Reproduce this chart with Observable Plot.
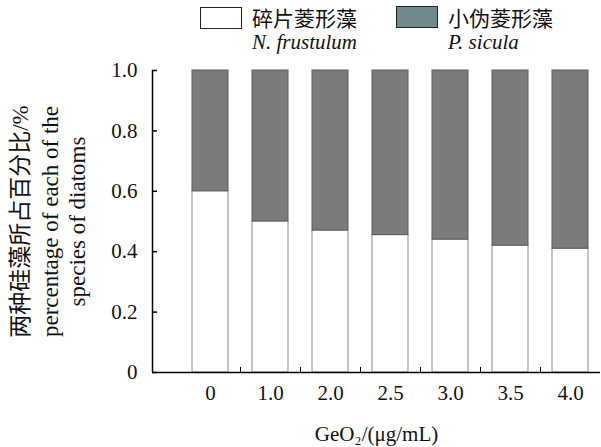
<!DOCTYPE html>
<html lang="zh-CN">
<head>
<meta charset="utf-8">
<script src="https://cdn.jsdelivr.net/npm/d3@7"></script>
<script src="https://cdn.jsdelivr.net/npm/@observablehq/plot@0.6"></script>
<style>
  html, body { margin: 0; padding: 0; background: #fff; }
  body { width: 601px; height: 447px; overflow: hidden; font-family: "Liberation Serif", "Noto Sans CJK SC", serif; }
  #legend { position: relative; width: 601px; height: 56px; }
  #legend .sw { position: absolute; box-sizing: border-box; border: 1.5px solid #222; }
  #legend .t { position: absolute; font-family: "Liberation Serif", "Noto Sans CJK SC", serif; font-size: 21px; line-height: 21px; color: #111; white-space: nowrap; }
  #legend .it { font-style: italic; }
  #chart svg { display: block; }
</style>
</head>
<body>
<div id="legend"></div>
<div id="chart"></div>
<script>
// ---- data ----
const categories = ["0", "1.0", "2.0", "2.5", "3.0", "3.5", "4.0"];
const nFrustulum = [0.60, 0.50, 0.47, 0.455, 0.44, 0.42, 0.41];   // 碎片菱形藻
const pSicula    = [0.40, 0.50, 0.53, 0.545, 0.56, 0.58, 0.59];   // 小伪菱形藻
const yTicks = [0, 0.2, 0.4, 0.6, 0.8, 1.0];
const yTickLabels = ["0", "0.2", "0.4", "0.6", "0.8", "1.0"];
const seriesNames = ["碎片菱形藻", "小伪菱形藻"];
const seriesLatin = ["N. frustulum", "P. sicula"];
const xTitle = "GeO₂/(μg/mL)";
const yTitleLines = ["两种硅藻所占百分比/%", "percentage of each of the", "species of diatoms"];

// ---- legend (HTML, above the SVG) ----
const legend = document.getElementById("legend");
const legendSpec = [
  {sw: {left: 200, top: 7, bg: "#ffffff"}, tx: 252},
  {sw: {left: 396, top: 6, bg: "#6f898c"}, tx: 448}
];
legendSpec.forEach((s, i) => {
  const sw = document.createElement("div");
  sw.className = "sw";
  Object.assign(sw.style, {left: s.sw.left + "px", top: s.sw.top + "px", width: "42px", height: "22px", background: s.sw.bg});
  legend.appendChild(sw);
  const t1 = document.createElement("div");
  t1.className = "t";
  Object.assign(t1.style, {left: s.tx + "px", top: "9px"});
  t1.textContent = seriesNames[i];
  legend.appendChild(t1);
  const t2 = document.createElement("div");
  t2.className = "t it";
  Object.assign(t2.style, {left: s.tx + "px", top: "32px"});
  t2.textContent = seriesLatin[i];
  legend.appendChild(t2);
});

// ---- chart ----
const data = categories.map((c, i) => ({i, c, nf: nFrustulum[i], ps: pSicula[i]}));
const bounds = data.slice(0, -1).map(d => d.i + 0.5);

const W = 601, H = 391, mL = 152, mR = 1, mT = 14, mB = 75;
const xmin = -0.5 - 28 / 60, xmax = categories.length - 0.5;
const pxPerX = (W - mL - mR) / (xmax - xmin);
const pxPerY = (H - mT - mB);
const halfBar = 18 / pxPerX;
const font = `"Liberation Serif", "Noto Sans CJK SC", serif`;

const yTitle = (line, dx) => Plot.text([line], {frameAnchor: "left", text: d => d, rotate: -90, dx, dy: 0,
  textAnchor: "middle", lineAnchor: "middle", fontSize: 23, fontFamily: font, fill: "#111"});

const plot = Plot.plot({
  width: W, height: H,
  marginLeft: mL, marginRight: mR, marginTop: mT, marginBottom: mB,
  style: {fontFamily: font, fontSize: "21px", color: "#111", background: "#fff"},
  x: {type: "linear", domain: [xmin, xmax], axis: null},
  y: {domain: [0, 1], axis: null},
  marks: [
    // white (N. frustulum) lower segments
    Plot.rectY(data, {x1: d => d.i - halfBar, x2: d => d.i + halfBar, y1: 0, y2: d => d.nf,
      fill: "#ffffff", stroke: "#8a8a8a", strokeWidth: 1}),
    // grey (P. sicula) upper segments
    Plot.rectY(data, {x1: d => d.i - halfBar, x2: d => d.i + halfBar, y1: d => d.nf, y2: d => d.nf + d.ps,
      fill: "#7b7b7b", stroke: "#5a5a5a", strokeWidth: 1}),
    // axes lines
    Plot.ruleX([xmin], {y1: 0, y2: 1, stroke: "#000", strokeWidth: 1.5}),
    Plot.ruleY([0], {x1: xmin, x2: xmax, stroke: "#000", strokeWidth: 1.5}),
    // inward y ticks
    Plot.ruleY(yTicks, {y: d => d, x1: xmin, x2: xmin + 5 / pxPerX, stroke: "#000", strokeWidth: 1.5}),
    // small upward ticks between categories
    Plot.ruleX(bounds, {x: d => d, y1: 0, y2: 5 / pxPerY, stroke: "#000", strokeWidth: 1}),
    // y tick labels
    Plot.text(yTicks, {x: xmin, y: d => d, text: (d, i) => yTickLabels[i], textAnchor: "end", dx: -15,
      lineAnchor: "middle", fontSize: 21, fontFamily: font, fill: "#111"}),
    // x tick labels
    Plot.text(data, {x: "i", y: 0, text: "c", dy: 13, lineAnchor: "top", fontSize: 21, fontFamily: font, fill: "#111"}),
    // x axis title
    Plot.text([xTitle], {frameAnchor: "bottom", text: d => d, dy: 68, lineAnchor: "bottom", fontSize: 21, fontFamily: font, fill: "#111"}),
    // y axis title (three rotated lines)
    yTitle(yTitleLines[0], -132),
    yTitle(yTitleLines[1], -102),
    yTitle(yTitleLines[2], -75)
  ]
});
document.getElementById("chart").appendChild(plot);
</script>
</body>
</html>
